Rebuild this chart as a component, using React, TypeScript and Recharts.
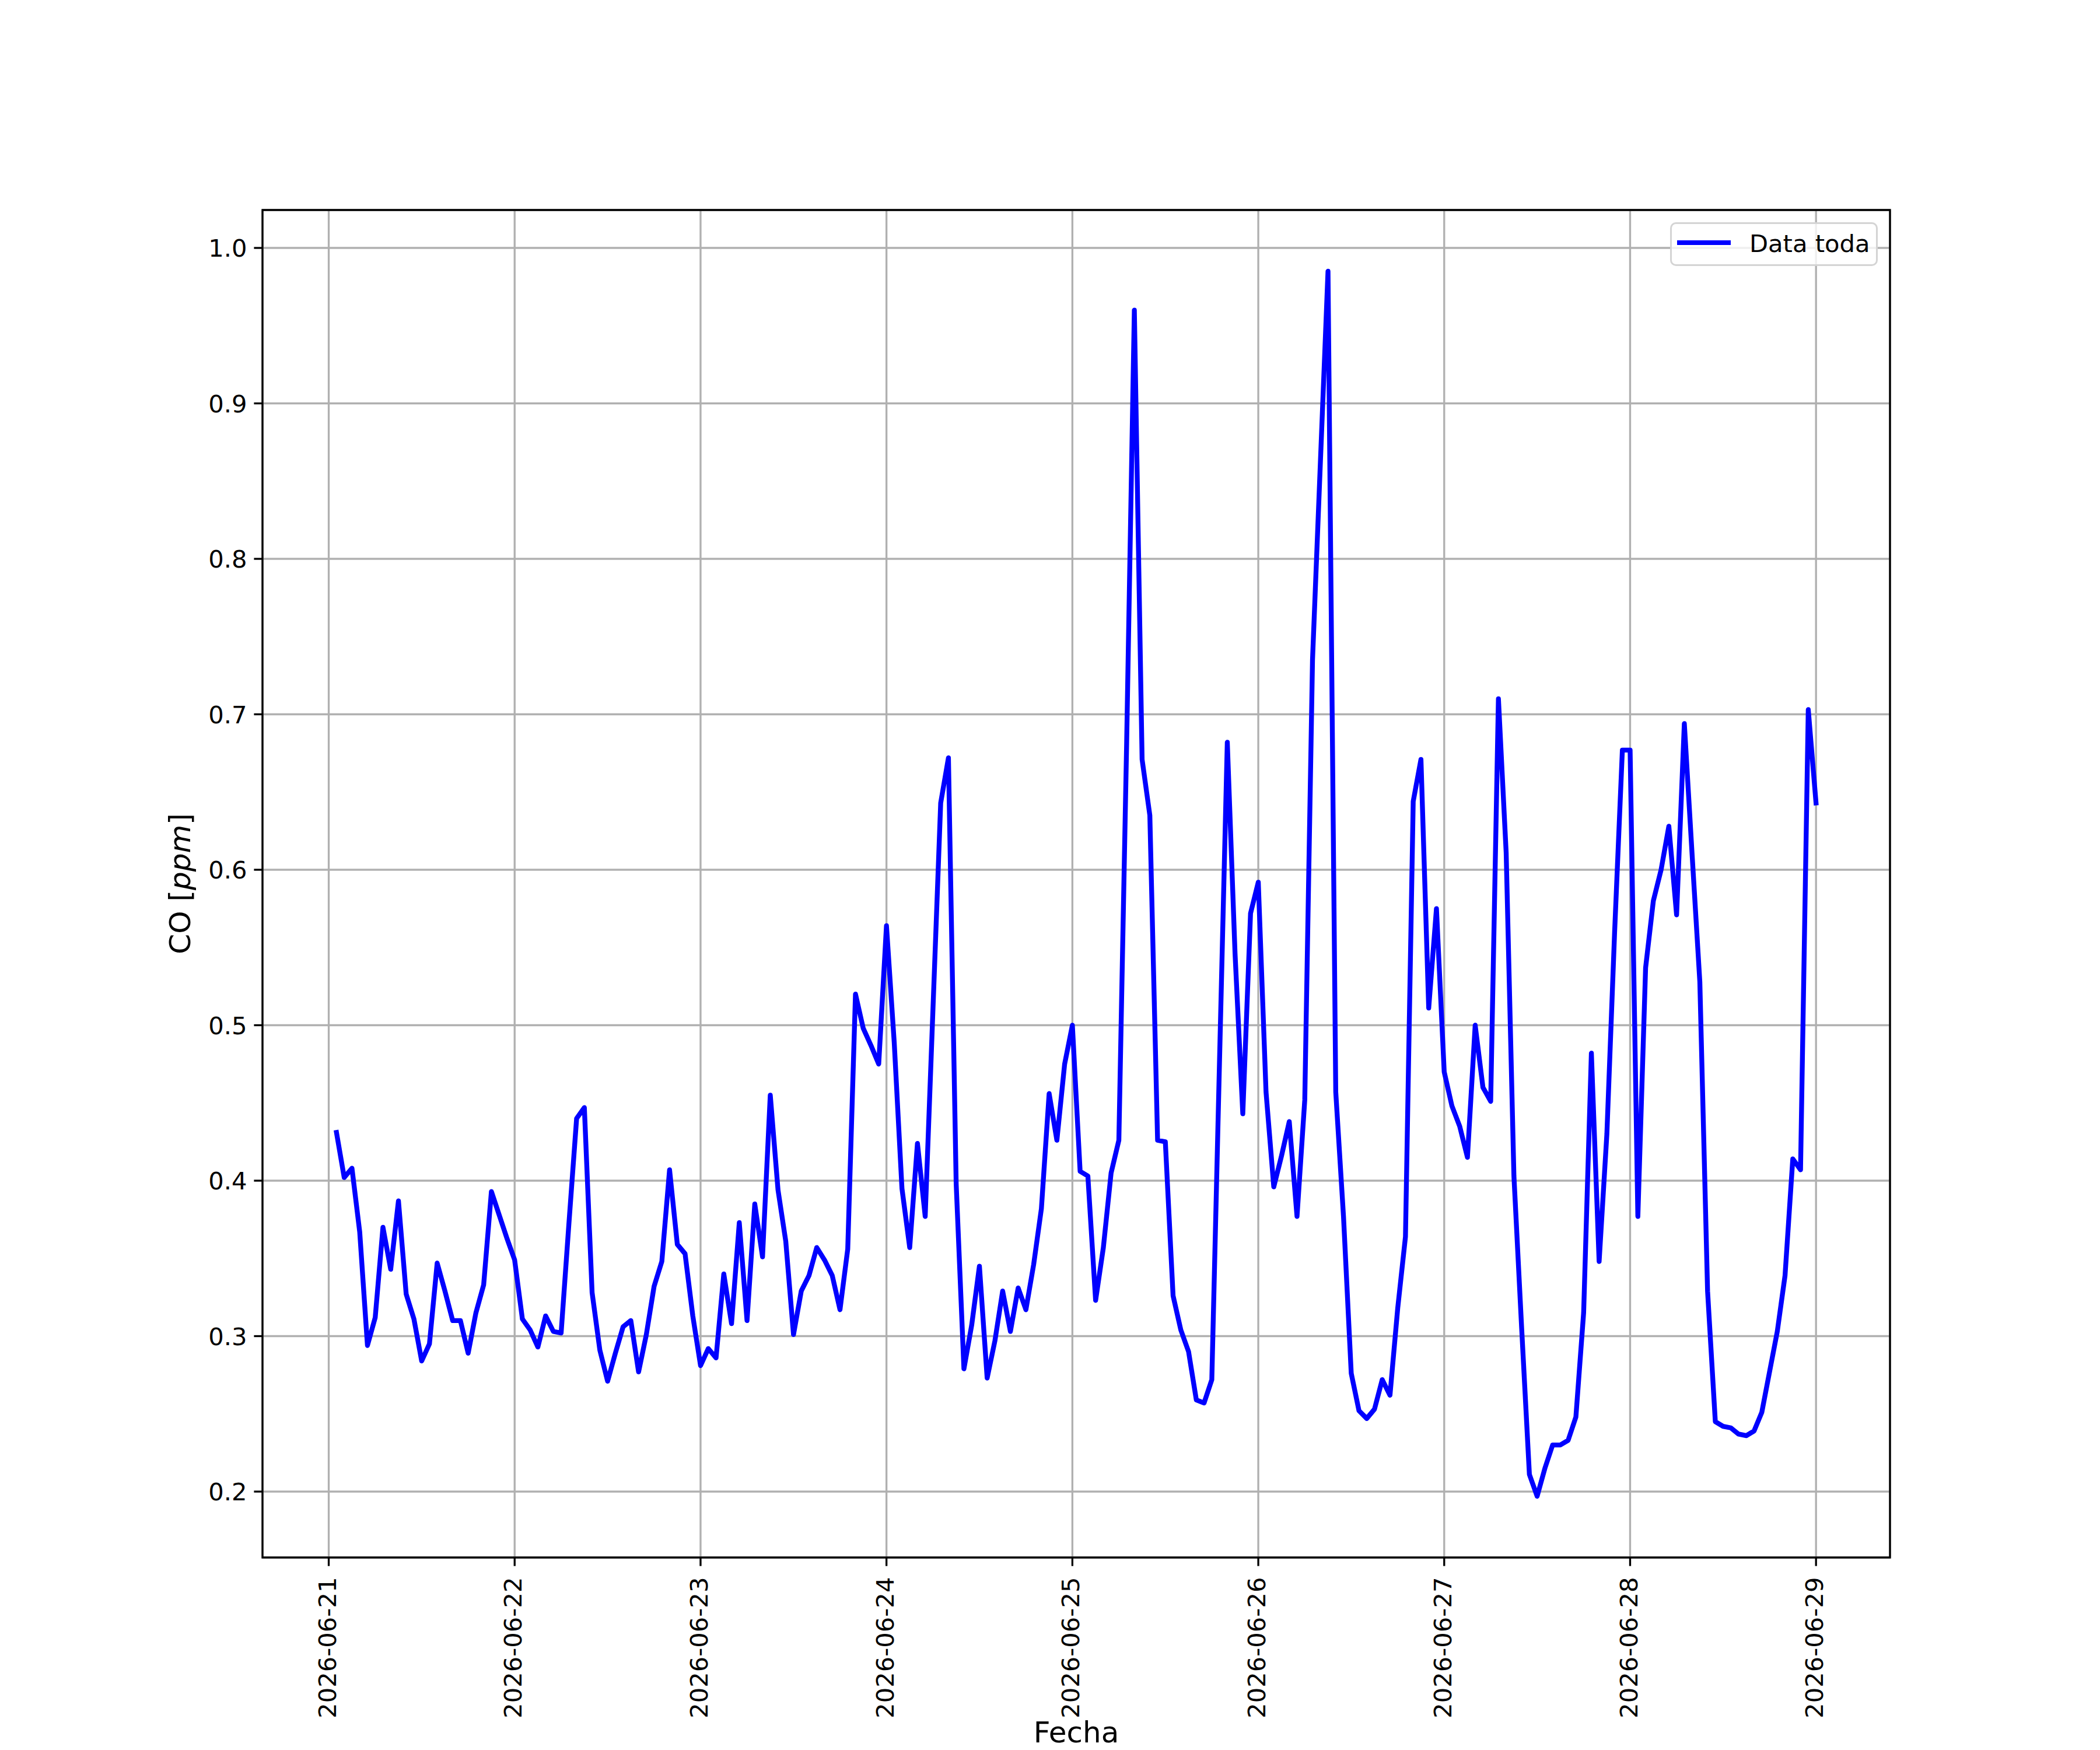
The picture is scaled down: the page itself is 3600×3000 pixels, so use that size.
import React from 'react';
import { LineChart, Line, XAxis, YAxis, CartesianGrid, Legend, ReferenceArea } from 'recharts';

// hourly CO readings, one array per day (01:00 ... 24:00)
const day21 = [0.431, 0.402, 0.408, 0.367, 0.294, 0.312, 0.370, 0.343, 0.387, 0.327, 0.311, 0.284, 0.295, 0.347, 0.329, 0.310, 0.310, 0.289, 0.315, 0.333, 0.393, 0.378, 0.363, 0.349];
const day22 = [0.311, 0.304, 0.293, 0.313, 0.303, 0.302, 0.372, 0.440, 0.447, 0.328, 0.291, 0.271, 0.289, 0.306, 0.310, 0.277, 0.301, 0.332, 0.348, 0.407, 0.359, 0.353, 0.313, 0.281];
const day23 = [0.292, 0.286, 0.340, 0.308, 0.373, 0.310, 0.385, 0.351, 0.455, 0.394, 0.361, 0.301, 0.329, 0.339, 0.357, 0.349, 0.339, 0.317, 0.356, 0.520, 0.498, 0.487, 0.475, 0.564];
const day24 = [0.489, 0.395, 0.357, 0.424, 0.377, 0.510, 0.643, 0.672, 0.398, 0.279, 0.307, 0.345, 0.273, 0.297, 0.329, 0.303, 0.331, 0.317, 0.346, 0.382, 0.456, 0.426, 0.475, 0.500];
const day25 = [0.406, 0.403, 0.323, 0.357, 0.405, 0.426, 0.680, 0.960, 0.671, 0.635, 0.426, 0.425, 0.326, 0.304, 0.290, 0.259, 0.257, 0.272, 0.478, 0.682, 0.546, 0.443, 0.572, 0.592];
const day26 = [0.457, 0.396, 0.416, 0.438, 0.377, 0.452, 0.735, 0.860, 0.985, 0.457, 0.377, 0.276, 0.252, 0.247, 0.253, 0.272, 0.262, 0.318, 0.364, 0.644, 0.671, 0.511, 0.575, 0.470];
const day27 = [0.448, 0.435, 0.415, 0.500, 0.460, 0.451, 0.710, 0.611, 0.403, 0.305, 0.211, 0.197, 0.215, 0.230, 0.230, 0.233, 0.248, 0.315, 0.482, 0.348, 0.430, 0.560, 0.677, 0.677];
const day28 = [0.377, 0.537, 0.580, 0.600, 0.628, 0.571, 0.694, 0.610, 0.528, 0.329, 0.245, 0.242, 0.241, 0.237, 0.236, 0.239, 0.251, 0.277, 0.303, 0.339, 0.414, 0.407, 0.703, 0.643];

const days = [day21, day22, day23, day24, day25, day26, day27, day28];
const dateLabels = ['2026-06-21', '2026-06-22', '2026-06-23', '2026-06-24', '2026-06-25', '2026-06-26', '2026-06-27', '2026-06-28', '2026-06-29'];
const yTicks = [0.2, 0.3, 0.4, 0.5, 0.6, 0.7, 0.8, 0.9, 1.0];

const data = days.flatMap((vals, d) => vals.map((v, i) => ({ h: d * 24 + i + 1, co: v })));
const xTicks = dateLabels.map((_, i) => i * 24);

const X_DOMAIN = [-8.55, 201.55];
const Y_DOMAIN = [0.1576, 1.0244];

const FONT = '"DejaVu Sans", sans-serif';
const FS = 41.67;
const LW = 3.33;
const LINE_W = 8.33;

const XTick = (props: any) => {
    const { x, y, payload } = props;
    const label = dateLabels[Math.round(payload.value / 24)];
    return (
        <text x={x} y={y + 19} dy="0.29em" transform={`rotate(-90, ${x}, ${y + 19})`}
            textAnchor="end" fontFamily={FONT} fontSize={FS} fill="#000">
            {label}
        </text>
    );
};

const YTick = (props: any) => {
    const { x, y, payload } = props;
    return (
        <text x={x - 12} y={y} dy="0.36em" textAnchor="end" fontFamily={FONT} fontSize={FS} fill="#000">
            {payload.value.toFixed(1)}
        </text>
    );
};

const LegendBox = () => (
    <div style={{
        width: 356, height: 75, boxSizing: 'border-box', border: '3.33px solid #d4d4d4',
        borderRadius: 10, background: 'rgba(255,255,255,0.8)', position: 'relative', fontFamily: FONT,
    }}>
        <div style={{ position: 'absolute', left: 9, top: 27.5, width: 92, height: LINE_W, background: '#0000ff' }} />
        <div style={{ position: 'absolute', left: 133, top: 6, fontSize: FS, lineHeight: '56px', color: '#000', whiteSpace: 'nowrap' }}>
            Data toda
        </div>
    </div>
);

export default function App() {
    return (
        <div style={{ position: 'absolute', left: 0, top: 0, width: 3600, height: 3000, background: '#fff' }}>
            <LineChart width={3600} height={3000} data={data} margin={{ top: 360, right: 360, bottom: 0, left: 0 }}>
                <CartesianGrid stroke="#b0b0b0" strokeWidth={LW} />
                <XAxis dataKey="h" type="number" domain={X_DOMAIN} ticks={xTicks} interval={0} height={330}
                    allowDataOverflow axisLine={false} tickSize={14.6} tickMargin={0}
                    tickLine={{ stroke: '#000', strokeWidth: LW }} tick={<XTick />}
                    label={{
                        content: (p: any) => (
                            <text x={p.viewBox.x + p.viewBox.width / 2} y={2987} textAnchor="middle"
                                fontFamily={FONT} fontSize={50} fill="#000">Fecha</text>
                        ),
                    }} />
                <YAxis type="number" domain={Y_DOMAIN} ticks={yTicks} interval={0} width={450}
                    allowDataOverflow axisLine={false} tickSize={14.6} tickMargin={0}
                    tickLine={{ stroke: '#000', strokeWidth: LW }} tick={<YTick />}
                    label={{
                        content: (p: any) => {
                            const cy = p.viewBox.y + p.viewBox.height / 2;
                            return (
                                <text x={326} y={cy} transform={`rotate(-90, 326, ${cy})`} textAnchor="middle"
                                    fontFamily={FONT} fontSize={50} fill="#000">
                                    CO [<tspan fontStyle="italic">ppm</tspan>]
                                </text>
                            );
                        },
                    }} />
                <Line dataKey="co" name="Data toda" stroke="#0000ff" strokeWidth={LINE_W} strokeLinejoin="round"
                    strokeLinecap="square" dot={false} activeDot={false} isAnimationActive={false} />
                <ReferenceArea x1={X_DOMAIN[0]} x2={X_DOMAIN[1]} y1={Y_DOMAIN[0]} y2={Y_DOMAIN[1]}
                    ifOverflow="visible" fill="none" fillOpacity={0} stroke="#000" strokeWidth={LW} />
                <Legend layout="horizontal" verticalAlign="middle" align="center"
                    wrapperStyle={{ top: 381, left: 2863, width: 356, height: 75 }} content={<LegendBox />} />
            </LineChart>
        </div>
    );
}
